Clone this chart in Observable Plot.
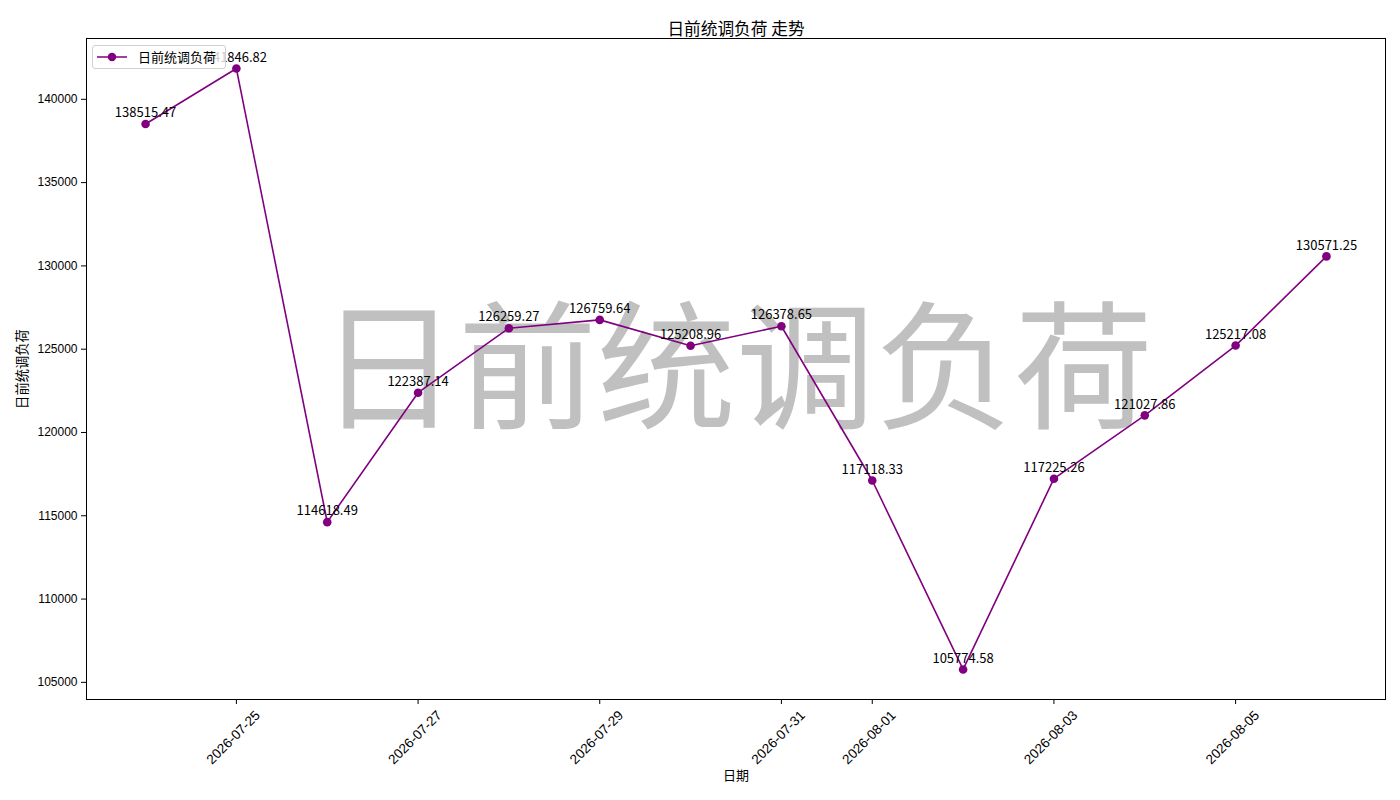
<!DOCTYPE html>
<html>
<head>
<meta charset="utf-8">
<script src="https://cdn.jsdelivr.net/npm/d3@7"></script>
<script src="https://cdn.jsdelivr.net/npm/@observablehq/plot@0.6"></script>
<style>
  html, body { margin: 0; padding: 0; background: #fff; }
  #wrap { position: relative; width: 1400px; height: 800px; font-family: "Liberation Sans", "Noto Sans CJK SC", sans-serif; }
  #legend { position: absolute; left: 92px; top: 45px; width: 134px; height: 24px; background: rgba(255,255,255,0.8); border: 1px solid #d0d0d0; border-radius: 3px; box-sizing: border-box; }
  #legend svg { position: absolute; left: 0; top: 0; }
  #legend span { position: absolute; left: 45px; top: 3px; font-size: 13px; font-family: "Noto Sans CJK SC", sans-serif; line-height: 16px; color: #000; white-space: nowrap; }
</style>
</head>
<body>
<div id="wrap">
  <div id="chart"></div>
  <div id="legend">
    <svg width="40" height="22"><line x1="4" x2="34" y1="11" y2="11" stroke="#800080" stroke-width="1.5"/><circle cx="19" cy="11" r="4.2" fill="#800080"/></svg>
    <span>日前统调负荷</span>
  </div>
</div>
<script>
const title = "日前统调负荷 走势";
const xLabel = "日期";
const yLabel = "日前统调负荷";
const watermark = "日前统调负荷";
const dates = ["2026-07-24","2026-07-25","2026-07-26","2026-07-27","2026-07-28","2026-07-29","2026-07-30","2026-07-31","2026-08-01","2026-08-02","2026-08-03","2026-08-04","2026-08-05","2026-08-06"];
const values = [138515.47,141846.82,114618.49,122387.14,126259.27,126759.64,125208.96,126378.65,117118.33,105774.58,117225.26,121027.86,125217.08,130571.25];
const xTicks = ["2026-07-25","2026-07-27","2026-07-29","2026-07-31","2026-08-01","2026-08-03","2026-08-05"];
const yTicks = [105000,110000,115000,120000,125000,130000,135000,140000];

const parse = d3.utcParse("%Y-%m-%d");
const data = dates.map((d, i) => ({date: parse(d), value: values[i]}));
const tickData = xTicks.map(d => ({date: parse(d), label: d}));

const [x0, x1] = d3.extent(data, d => d.date);
const xpad = (x1 - x0) * 0.05;
const [y0, y1] = d3.extent(values);
const ypad = (y1 - y0) * 0.05;
const color = "#800080";
const font = "Liberation Sans, Noto Sans CJK SC, sans-serif";
const cjk = "Noto Sans CJK SC, sans-serif";

const chart = Plot.plot({
  width: 1400, height: 800,
  marginLeft: 86, marginRight: 15, marginTop: 38, marginBottom: 101,
  style: {fontFamily: font, fontSize: "12px", background: "white"},
  x: {type: "utc", domain: [new Date(+x0 - xpad), new Date(+x1 + xpad)]},
  y: {domain: [y0 - ypad, y1 + ypad]},
  marks: [
    Plot.text([watermark], {frameAnchor: "middle", fontSize: 139, fill: "#c0c0c0", fontFamily: cjk, dx: 0, dy: 5}),
    Plot.line(data, {x: "date", y: "value", stroke: color, strokeWidth: 1.6}),
    Plot.dot(data, {x: "date", y: "value", r: 4.3, fill: color, stroke: "none"}),
    Plot.text(data, {x: "date", y: "value", text: d => d.value.toFixed(2), dy: -11, fontSize: 13, fill: "#000", fontFamily: cjk}),
    Plot.frame({stroke: "#000", strokeWidth: 1}),
    Plot.axisY({ticks: yTicks, tickFormat: d3.format("d"), tickSize: 5, tickPadding: 4, label: null, fontSize: 12}),
    Plot.axisX({ticks: tickData.map(d => d.date), tickFormat: () => "", tickSize: 5, label: null}),
    Plot.text(tickData, {x: "date", text: "label", frameAnchor: "bottom", dy: 41, rotate: -45, textAnchor: "middle", fontSize: 13.5}),
    Plot.text([title], {frameAnchor: "top", dy: -15, fontSize: 16.7, fontFamily: cjk, textAnchor: "middle"}),
    Plot.text([xLabel], {frameAnchor: "bottom", dy: 80, fontSize: 13, fontFamily: cjk, textAnchor: "middle"}),
    Plot.text([yLabel], {frameAnchor: "left", dx: -64, rotate: -90, fontSize: 13.3, fontFamily: cjk, textAnchor: "middle"})
  ]
});
document.getElementById("chart").appendChild(chart);
</script>
</body>
</html>
